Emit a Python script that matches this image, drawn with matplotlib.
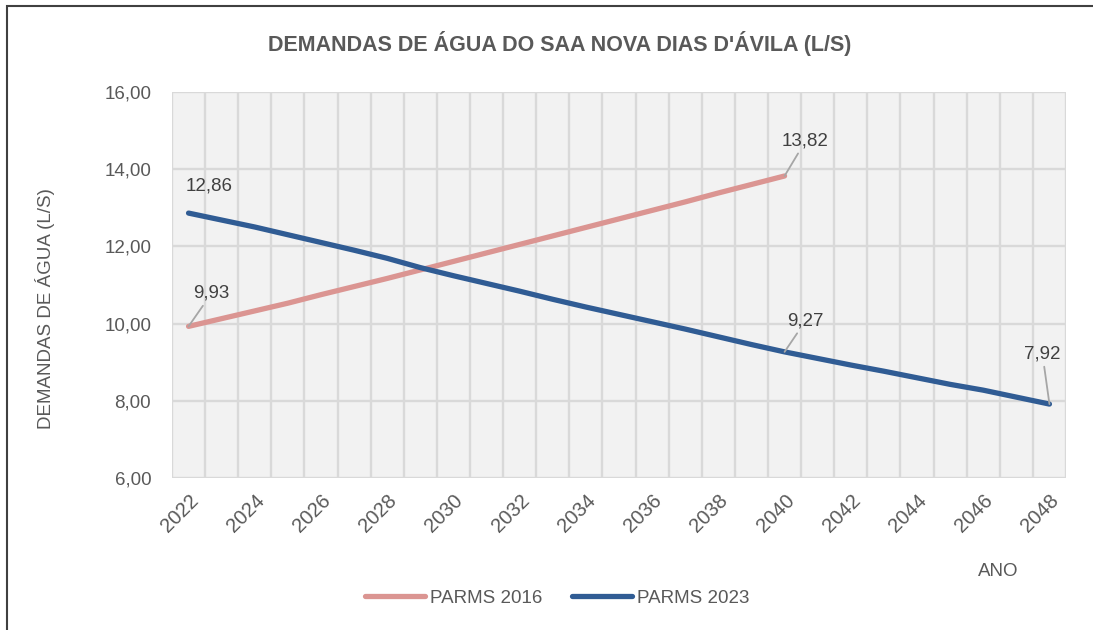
import matplotlib
matplotlib.use("Agg")
import matplotlib.pyplot as plt
from matplotlib.patches import Rectangle
from matplotlib.ticker import FixedLocator, FuncFormatter

plt.rcParams["font.family"] = ["Liberation Sans", "DejaVu Sans"]

# Dados
anos_2016 = list(range(2022, 2041))
parms_2016 = [9.93, 10.13, 10.33, 10.53, 10.75, 10.96, 11.17, 11.39, 11.61, 11.83,
              12.05, 12.27, 12.49, 12.71, 12.93, 13.15, 13.38, 13.60, 13.82]

anos_2023 = list(range(2022, 2049))
parms_2023 = [12.86, 12.68, 12.50, 12.30, 12.10, 11.90, 11.69, 11.45, 11.24, 11.04,
              10.84, 10.63, 10.43, 10.24, 10.05, 9.86, 9.66, 9.46, 9.27, 9.10,
              8.93, 8.77, 8.60, 8.43, 8.28, 8.10, 7.92]

anos_ticks = list(range(2022, 2049, 2))
y_ticks = [6, 8, 10, 12, 14, 16]

cor_2016 = "#DB9592"
cor_2023 = "#305C94"
cinza_texto = "#595959"

fig = plt.figure(figsize=(10.93, 6.30), dpi=100)
ax = fig.add_axes([172 / 1093, 1 - 478.3 / 630, (1066 - 172) / 1093, (478.3 - 91.7) / 630])

# moldura
fig.patches.append(Rectangle((7 / 1093, -0.1), 1.2, 1 - 6 / 630 + 0.1, transform=fig.transFigure,
                             fill=False, edgecolor="#404040", linewidth=1.5))

ax.set_facecolor("#F2F2F2")
for s in ax.spines.values():
    s.set_visible(False)

ax.set_xlim(2021.5, 2048.5)
ax.set_ylim(6, 16)

# grade
ax.xaxis.set_minor_locator(FixedLocator([a + 0.5 for a in range(2021, 2049)]))
ax.set_xticks(anos_ticks)
ax.set_yticks(y_ticks)
ax.grid(True, which="minor", axis="x", color="#D9D9D9", linewidth=1.7)
ax.grid(True, which="major", axis="y", color="#D9D9D9", linewidth=1.7)
ax.set_axisbelow(True)
ax.tick_params(which="both", length=0)

ax.yaxis.set_major_formatter(FuncFormatter(lambda v, p: f"{v:.2f}".replace(".", ",")))
ax.tick_params(axis="y", labelsize=13.5, labelcolor=cinza_texto, pad=15)
ax.tick_params(axis="x", labelsize=14.5, labelcolor=cinza_texto, pad=9)
for lab in ax.get_xticklabels():
    lab.set_rotation(45)
    lab.set_ha("right")
    lab.set_va("top")
    lab.set_rotation_mode("anchor")

ax.plot(anos_2016, parms_2016, color=cor_2016, linewidth=3.8, solid_capstyle="round",
        solid_joinstyle="round", label="PARMS 2016")
ax.plot(anos_2023, parms_2023, color=cor_2023, linewidth=3.8, solid_capstyle="round",
        solid_joinstyle="round", label="PARMS 2023")

# rótulos de dados
def rotulo(x, y, dx, dy, linha=True):
    txt = f"{y:.2f}".replace(".", ",")
    props = dict(arrowstyle="-", color="#A6A6A6", linewidth=1.3, shrinkA=1, shrinkB=0) if linha else None
    ax.annotate(txt, xy=(x, y), xytext=(dx, dy), textcoords="offset pixels",
                ha="center", va="center", fontsize=13.5, color="#404040", arrowprops=props)

rotulo(anos_2023[0], parms_2023[0], 21, 27, linha=False)
rotulo(anos_2016[0], parms_2016[0], 23, 33)
rotulo(anos_2016[-1], parms_2016[-1], 21, 35)
rotulo(anos_2023[18], parms_2023[18], 21, 31)
rotulo(anos_2023[-1], parms_2023[-1], -7, 50)

fig.text(45 / 1093, 1 - 309 / 630, "DEMANDAS DE ÁGUA (L/S)", fontsize=13.5, color=cinza_texto,
         rotation=90, ha="center", va="center")
fig.text(998 / 1093, 1 - 572 / 630, "ANO", fontsize=13.5, color=cinza_texto, ha="center", va="center")

fig.text(560 / 1093, 1 - 44 / 630, "DEMANDAS DE ÁGUA DO SAA NOVA DIAS D'ÁVILA (L/S)",
         fontsize=15.5, fontweight="bold", color=cinza_texto, ha="center", va="center")

fig.legend(loc="center", bbox_to_anchor=(557 / 1093, 1 - 598 / 630), ncol=2, frameon=False,
           fontsize=13.5, labelcolor=cinza_texto, handlelength=3.2, handletextpad=0.25,
           columnspacing=1.6)

fig.savefig("out.png", dpi=100)
